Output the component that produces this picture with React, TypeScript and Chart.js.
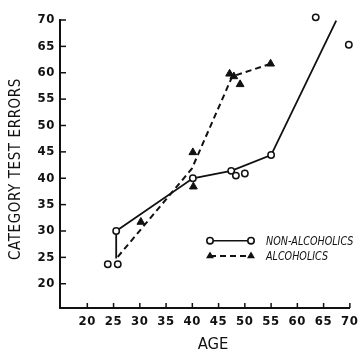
import React, { useEffect, useRef } from 'react';
import { Chart, registerables } from 'chart.js';

Chart.register(...registerables);

// Axis ticks
const xTickValues = [20, 25, 30, 35, 40, 45, 50, 55, 60, 65, 70];
const yTickValues = [20, 25, 30, 35, 40, 45, 50, 55, 60, 65, 70];

// Individual subjects: non-alcoholics (open circles)
const nonAlcAges = [23.9, 25.8, 25.5, 40.1, 47.4, 48.3, 50.0, 55.0, 63.5, 69.8];
const nonAlcErrors = [23.7, 23.7, 30.0, 40.0, 41.4, 40.5, 40.9, 44.4, 70.5, 65.3];

// Individual subjects: alcoholics (filled triangles)
const alcAges = [30.2, 40.2, 40.1, 47.1, 47.9, 49.1, 54.9];
const alcErrors = [31.7, 38.4, 44.9, 59.8, 59.3, 57.8, 61.7];

// Trend lines
const nonAlcLineAges = [25.5, 25.5, 40.1, 47.4, 55.0, 67.4];
const nonAlcLineErrors = [24.8, 30.0, 40.0, 41.4, 44.4, 69.9];
const alcLineAges = [25.8, 39.9, 47.6, 54.9];
const alcLineErrors = [25.1, 41.8, 59.3, 61.7];

const legendLabels = ['NON-ALCOHOLICS', 'ALCOHOLICS'];
const xTitle = 'AGE';
const yTitle = 'CATEGORY TEST ERRORS';

const FONT = "'DejaVu Sans Condensed', 'Liberation Sans Narrow', sans-serif";
const INK = '#111';

const toPts = (xs: number[], ys: number[]) => xs.map((x, i) => ({ x, y: ys[i] }));

export default function App() {
  const ref = useRef<HTMLCanvasElement>(null);

  useEffect(() => {
    const canvas = ref.current;
    if (!canvas) return;

    const spacingPlugin = {
      id: 'spacing',
      beforeDraw(chart: any) {
        chart.ctx.letterSpacing = '0.6px';
      },
      beforeDatasetsDraw(chart: any) {
        chart.ctx.letterSpacing = '0px';
      },
    };

    const decorPlugin = {
      id: 'decor',
      afterDraw(chart: any) {
        const ctx = chart.ctx as CanvasRenderingContext2D;
        const xs = chart.scales.x;
        const ys = chart.scales.y;
        const a = chart.chartArea;
        ctx.save();
        (ctx as any).letterSpacing = '0px';
        ctx.strokeStyle = INK;
        ctx.fillStyle = INK;
        ctx.lineWidth = 1.5;
        // inward tick marks
        xTickValues.forEach((v) => {
          const px = xs.getPixelForValue(v);
          ctx.beginPath();
          ctx.moveTo(px, a.bottom);
          ctx.lineTo(px, a.bottom - 5);
          ctx.stroke();
        });
        yTickValues.forEach((v) => {
          const py = ys.getPixelForValue(v);
          ctx.beginPath();
          ctx.moveTo(a.left, py);
          ctx.lineTo(a.left + 6, py);
          ctx.stroke();
        });

        // axis titles
        ctx.textAlign = 'center';
        ctx.textBaseline = 'middle';
        ctx.font = `16.5px ${FONT}`;
        ctx.fillText(xTitle, a.left + 153, 345);

        ctx.save();
        ctx.translate(16, 169);
        ctx.rotate(-Math.PI / 2);
        (ctx as any).letterSpacing = '0.6px';
        ctx.font = `15px ${FONT}`;
        ctx.fillText(yTitle, 0, 0);
        ctx.restore();

        // legend
        const lx0 = a.left + 150;
        const lx1 = a.left + 191;
        const ly0 = 240.7;
        const ly1 = 256;
        ctx.lineWidth = 1.6;
        ctx.setLineDash([]);
        ctx.beginPath();
        ctx.moveTo(lx0, ly0);
        ctx.lineTo(lx1, ly0);
        ctx.stroke();
        [lx0, lx1].forEach((x) => {
          ctx.beginPath();
          ctx.arc(x, ly0, 3.2, 0, Math.PI * 2);
          ctx.fillStyle = '#fff';
          ctx.fill();
          ctx.stroke();
        });
        ctx.fillStyle = INK;
        ctx.lineWidth = 2;
        ctx.setLineDash([6, 4]);
        ctx.beginPath();
        ctx.moveTo(lx0, ly1);
        ctx.lineTo(lx1, ly1);
        ctx.stroke();
        ctx.setLineDash([]);
        [lx0, lx1].forEach((x) => {
          const r = 4.6;
          ctx.beginPath();
          ctx.moveTo(x, ly1 - r);
          ctx.lineTo(x + r * 0.866, ly1 + r * 0.5);
          ctx.lineTo(x - r * 0.866, ly1 + r * 0.5);
          ctx.closePath();
          ctx.fill();
        });
        ctx.textAlign = 'left';
        ctx.font = `italic 13px ${FONT}`;
        [ly0, ly1].forEach((ly, i) => {
          ctx.save();
          ctx.translate(a.left + 206, ly + 0.5);
          ctx.scale(0.82, 1);
          ctx.fillText(legendLabels[i], 0, 0);
          ctx.restore();
        });
        ctx.restore();
      },
    };

    const chart = new Chart(canvas, {
      type: 'scatter',
      data: {
        datasets: [
          {
            label: legendLabels[0],
            data: toPts(nonAlcAges, nonAlcErrors),
            pointStyle: 'circle',
            pointRadius: 3.2,
            pointBorderWidth: 1.5,
            pointBackgroundColor: '#fff',
            pointBorderColor: INK,
            borderColor: INK,
            showLine: false,
            clip: false as any,
          },
          {
            label: legendLabels[1],
            data: toPts(alcAges, alcErrors),
            pointStyle: 'triangle',
            pointRadius: 4.5,
            pointBorderWidth: 1,
            pointBackgroundColor: INK,
            pointBorderColor: INK,
            borderColor: INK,
            showLine: false,
            clip: false as any,
          },
          {
            label: 'non-alc line',
            data: toPts(nonAlcLineAges, nonAlcLineErrors),
            showLine: true,
            borderColor: INK,
            borderWidth: 1.8,
            pointRadius: 0,
            clip: false as any,
          },
          {
            label: 'alc line',
            data: toPts(alcLineAges, alcLineErrors),
            showLine: true,
            borderColor: INK,
            borderWidth: 2,
            borderDash: [6, 4],
            pointRadius: 0,
            clip: false as any,
          },
        ],
      },
      options: {
        responsive: false,
        animation: false,
        layout: { padding: { top: 20, right: 8, left: 0, bottom: 0 } },
        plugins: {
          legend: { display: false },
          tooltip: { enabled: false },
        },
        scales: {
          x: {
            type: 'linear',
            min: 14.8,
            max: 70,
            afterBuildTicks: (s: any) => {
              s.ticks = xTickValues.map((value) => ({ value }));
            },
            afterFit: (s: any) => {
              s.height = 45;
            },
            grid: { display: false, drawTicks: false },
            border: { display: true, color: INK, width: 2 },
            ticks: {
              color: INK,
              font: { family: FONT, size: 13, weight: 'bold' },
              padding: 6,
              maxRotation: 0,
              autoSkip: false,
              callback: (v: any) => String(v),
            },
          },
          y: {
            type: 'linear',
            min: 15.4,
            max: 70,
            afterBuildTicks: (s: any) => {
              s.ticks = yTickValues.map((value) => ({ value }));
            },
            afterFit: (s: any) => {
              s.width = 60;
            },
            grid: { display: false, drawTicks: false },
            border: { display: true, color: INK, width: 2 },
            ticks: {
              color: INK,
              font: { family: FONT, size: 13, weight: 'bold' },
              padding: 5,
              autoSkip: false,
              callback: (v: any) => String(v),
            },
          },
        },
      },
      plugins: [spacingPlugin, decorPlugin],
    });

    return () => chart.destroy();
  }, []);

  return (
    <div style={{ position: 'fixed', left: 0, top: 0, width: 364, height: 353, background: '#fff' }}>
      <canvas ref={ref} width={364} height={353} style={{ width: 364, height: 353, display: 'block' }} />
    </div>
  );
}
